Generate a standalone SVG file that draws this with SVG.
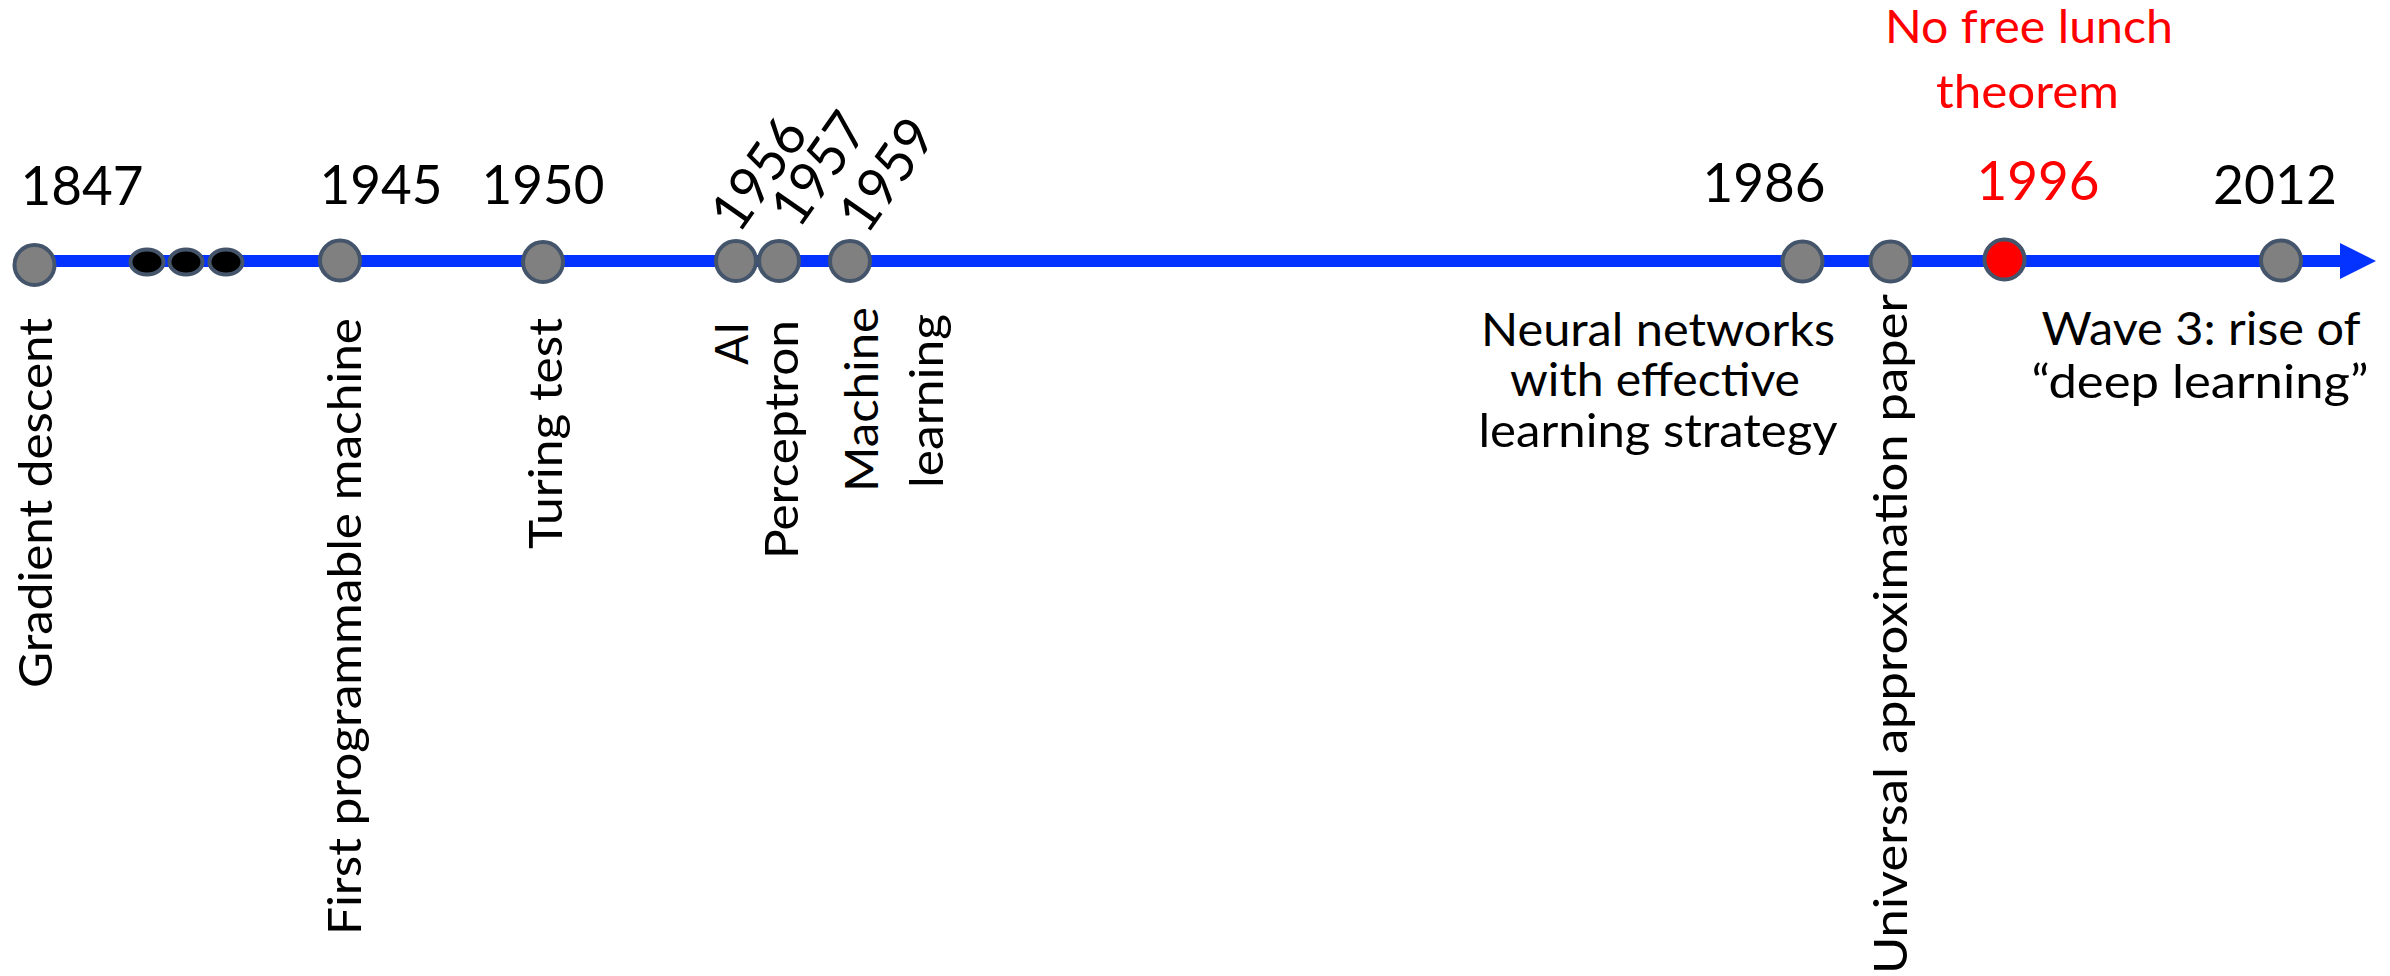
<svg xmlns="http://www.w3.org/2000/svg" width="2390" height="976" viewBox="0 0 2390 976">
  <style>
    .bg { fill: #ffffff; }
    .axis { stroke: #0433ff; stroke-width: 12; fill: none; }
    .head { fill: #0433ff; }
    .dot { fill: #808080; stroke: #44546a; stroke-width: 4; }
    .dot-hot { fill: #ff0000; stroke: #44546a; stroke-width: 4; }
    .gap { fill: #000000; stroke: #44546a; stroke-width: 4; }
    .year { font-family: Lato, "Open Sans", "Liberation Sans", sans-serif; font-size: 55px; fill: #000000; }
    .label { font-family: Lato, "Open Sans", "Liberation Sans", sans-serif; font-size: 47px; fill: #000000; }
    .hot { fill: #ff0000; }
  </style>
  <defs>
    <marker id="arrow" viewBox="0 0 36 36" refX="0" refY="18" markerWidth="36" markerHeight="36" markerUnits="userSpaceOnUse" orient="auto">
      <path d="M0,0 L36,18 L0,36 Z" class="head"/>
    </marker>
  </defs>
  <rect class="bg" x="0" y="0" width="2390" height="976"/>

  <!-- timeline axis -->
  <g id="connectors">
    <line class="axis" x1="34" y1="261" x2="2340" y2="261" marker-end="url(#arrow)"/>
  </g>

  <g id="event-1847">
    <circle class="dot" cx="34.5" cy="265" r="20"/>
    <text class="year" x="82" y="205" text-anchor="middle" textLength="123" lengthAdjust="spacingAndGlyphs">1847</text>
    <text class="label" transform="translate(52,688) rotate(-90)" textLength="370" lengthAdjust="spacingAndGlyphs">Gradient descent</text>
  </g>

  <g id="elided-years">
    <ellipse class="gap" cx="147" cy="262" rx="16.5" ry="12.5"/>
    <ellipse class="gap" cx="186" cy="262" rx="16.5" ry="12.5"/>
    <ellipse class="gap" cx="226" cy="262" rx="16.5" ry="12.5"/>
  </g>

  <g id="event-1945">
    <circle class="dot" cx="340" cy="260.5" r="20"/>
    <text class="year" x="381" y="204" text-anchor="middle" textLength="123" lengthAdjust="spacingAndGlyphs">1945</text>
    <text class="label" transform="translate(361,935) rotate(-90)" textLength="617" lengthAdjust="spacingAndGlyphs">First programmable machine</text>
  </g>

  <g id="event-1950">
    <circle class="dot" cx="543" cy="262" r="20"/>
    <text class="year" x="543" y="204" text-anchor="middle" textLength="123" lengthAdjust="spacingAndGlyphs">1950</text>
    <text class="label" transform="translate(562,549) rotate(-90)" textLength="231" lengthAdjust="spacingAndGlyphs">Turing test</text>
  </g>

  <g id="event-1956">
    <circle class="dot" cx="736" cy="261" r="20"/>
    <text class="year" transform="translate(739,235) rotate(-55)" textLength="123" lengthAdjust="spacingAndGlyphs">1956</text>
    <text class="label" transform="translate(748,365) rotate(-90)" textLength="43" lengthAdjust="spacingAndGlyphs">AI</text>
  </g>

  <g id="event-1957">
    <circle class="dot" cx="779" cy="261" r="20"/>
    <text class="year" transform="translate(799,230) rotate(-55)" textLength="123" lengthAdjust="spacingAndGlyphs">1957</text>
    <text class="label" transform="translate(798,559) rotate(-90)" textLength="239" lengthAdjust="spacingAndGlyphs">Perceptron</text>
  </g>

  <g id="event-1959">
    <circle class="dot" cx="850" cy="261" r="20"/>
    <text class="year" transform="translate(867,236) rotate(-55)" textLength="123" lengthAdjust="spacingAndGlyphs">1959</text>
    <text class="label" transform="translate(878,492) rotate(-90)" textLength="185" lengthAdjust="spacingAndGlyphs">Machine</text>
    <text class="label" transform="translate(943,488) rotate(-90)" textLength="174" lengthAdjust="spacingAndGlyphs">learning</text>
  </g>

  <g id="event-1986">
    <circle class="dot" cx="1802.5" cy="261.5" r="20"/>
    <text class="year" x="1764" y="202" text-anchor="middle" textLength="123" lengthAdjust="spacingAndGlyphs">1986</text>
    <text class="label" x="1658" y="346" text-anchor="middle" textLength="354" lengthAdjust="spacingAndGlyphs">Neural networks</text>
    <text class="label" x="1655" y="396" text-anchor="middle" textLength="290" lengthAdjust="spacingAndGlyphs">with effective</text>
    <text class="label" x="1658" y="446.5" text-anchor="middle" textLength="359" lengthAdjust="spacingAndGlyphs">learning strategy</text>
  </g>

  <g id="event-universal-approximation">
    <circle class="dot" cx="1890.5" cy="261.5" r="20"/>
    <text class="label" transform="translate(1907,974) rotate(-90)" textLength="680" lengthAdjust="spacingAndGlyphs">Universal approximation paper</text>
  </g>

  <g id="event-1996">
    <circle class="dot-hot" cx="2004.5" cy="259.5" r="20"/>
    <text class="year hot" x="2038" y="200" text-anchor="middle" textLength="123" lengthAdjust="spacingAndGlyphs">1996</text>
    <text class="label hot" x="2029" y="43" text-anchor="middle" textLength="288" lengthAdjust="spacingAndGlyphs">No free lunch</text>
    <text class="label hot" x="2027.5" y="108" text-anchor="middle" textLength="183" lengthAdjust="spacingAndGlyphs">theorem</text>
  </g>

  <g id="event-2012">
    <circle class="dot" cx="2281" cy="260.5" r="20"/>
    <text class="year" x="2275" y="204" text-anchor="middle" textLength="124" lengthAdjust="spacingAndGlyphs">2012</text>
    <text class="label" x="2201" y="345" text-anchor="middle" textLength="319" lengthAdjust="spacingAndGlyphs">Wave 3: rise of</text>
    <text class="label" x="2200" y="398" text-anchor="middle" textLength="337" lengthAdjust="spacingAndGlyphs">“deep learning”</text>
  </g>
</svg>
